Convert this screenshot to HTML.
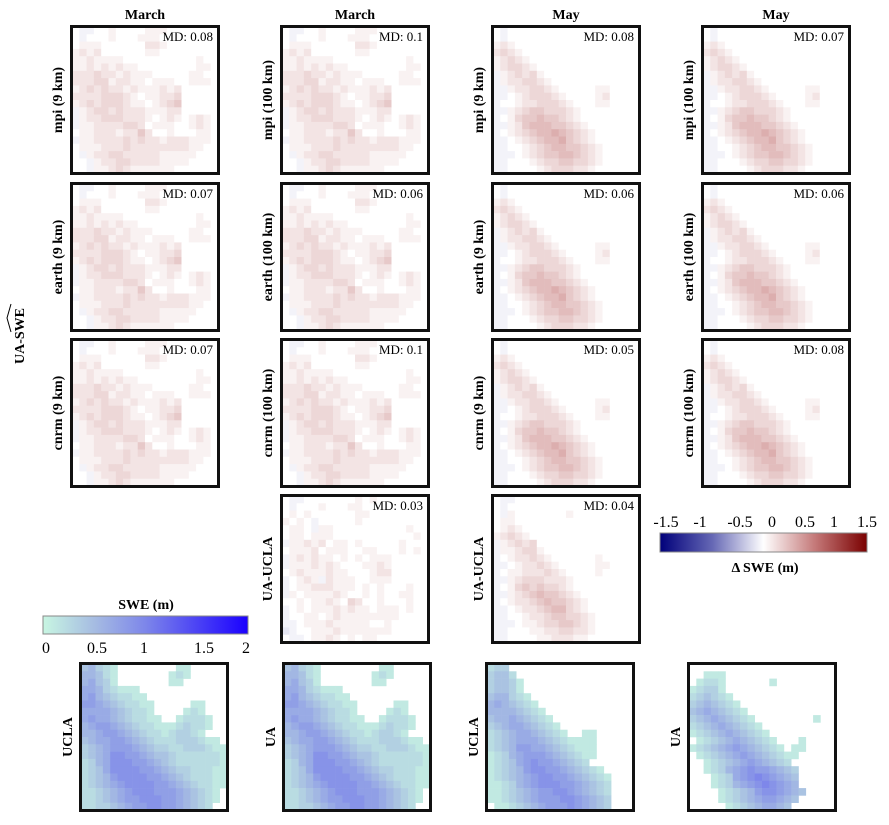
<!DOCTYPE html>
<html><head><meta charset="utf-8"><style>
html,body{margin:0;padding:0;background:#fff;}
svg{display:block;}
text{font-family:"Liberation Serif","DejaVu Serif",serif;}
</style></head><body>
<svg id="fig" width="889" height="825" viewBox="0 0 889 825" xmlns="http://www.w3.org/2000/svg">
<defs>
<linearGradient id="sweGrad" x1="0" x2="1" y1="0" y2="0">
<stop offset="0" stop-color="#c8f6e2"/><stop offset="0.25" stop-color="#a6bce2"/><stop offset="0.5" stop-color="#7d86ea"/><stop offset="1" stop-color="#1a00ff"/>
</linearGradient>
<linearGradient id="diffGrad" x1="0" x2="1" y1="0" y2="0">
<stop offset="0" stop-color="#00007a"/><stop offset="0.25" stop-color="#6466b4"/><stop offset="0.5" stop-color="#ffffff"/><stop offset="0.75" stop-color="#c47878"/><stop offset="1" stop-color="#7a0000"/>
</linearGradient>
</defs>
</svg>
<script>
// ---- data grids (20x20) ----
// SWE grids: digit level, SWE = level*0.11 m; 0 = no snow
const marchSwe = [
"45321000000001100000","55421000000012100000","56431000000011000000","66532111000000000000",
"67543221100000000000","77654322110000011000","66665432210000121000","67665432211001222100",
"56776543221112322100","55677654322123321000","45667765432223332110","34567776543322333211",
"34568877654432222221","23568887765432222221","23468888776543322211","23457888877654322211",
"23456788887765432211","22345678887776543210","22345677888776543210","22334567788776543200"];
const maySweUCLA = [
"23300000000000000000","34420000000000000000","34431000000000000000","34431000000000000000",
"45532100000000000000","56543210000000000000","55554321000000000000","45565432100000000000",
"34566543210000000000","23456654321001100000","23456665432111100000","23457766543211100000",
"12356777654321100000","12346787765432000000","12345788776543210000","12345678877654321000",
"11235678887765432000","11234567788765432000","11234567778876543000","01123456777876543000"];
const maySweUA = [
"00000000000000000000","00111000000000000000","01221000000100000000","12331000000000000000",
"23432100000000000000","34543210000000000000","45654321000000000000","34565432100000000100",
"23456543210000000000","12345654321000000000","01234565432100010000","12345676543210110000",
"01234567654321100000","00123456765432000000","00123567877654300000","00012367898765400000",
"00012356789876500000","00001234578876540000","00001234567765400000","00000123456654000000"];
// difference grids: digit = +0.075 m per level, 'a' = -0.075, 'b' = -0.15
const marchDiff = [
"0aa00100001110000000","0a000100011100000000","01110000002210000000","12120000001100000000",
"11211110000000000100","11212121100000000110","22232212111000001100","22233122110111001110",
"12323221211121200000","22223332101122300000","12323332110123400000","a1233232221112200000",
"a1223332221012101210","a1122223320111001210","01122212242001000110","a1122223232212221110",
"01112223222222221100","0a122332222211111000","00a12233222211110000","00a11232111111000000"];
const marchDiffUA = [
"0aa00000001010000000","0a000100011000000000","01010000001100000000","1010a000001000000000",
"0110a110000000000100","01101110000000000010","a1121201101000001000","01112011100110001010",
"a1212110101011100000","a1112121000112100000","01211121100012200000","a0121a21110011100000",
"a0112221110101000100","a1011112100101001100","00101121032001000100","a0101112121101110100",
"a0011012111111110000","aa011121111100100000","ba001112111111100000","0aa01121010110000000"];
const mayDiff = [
"0a000000000000000000","0a000000000000000000","12100000000000000000","23210000000000000000",
"12321000000000000000","12332100000000000000","a1232310000000000000","a1223321000000000000",
"aa122332100000110000","aa012333210000120000","a0012233321000110000","aa123443332100000000",
"a0134454432100000000","aa124555443210000000","a0123455654321000000","aa012345564321000000",
"aa001234554432100000","aaa01234455432100000","aa000123344332100000","aa000012333221000000"];
const mayDiffUA = [
"0aa00000000000000000","0a000000000000000000","0a100000001000000000","01100000000000000000",
"01210000000000000000","12321000000000000000","a1232300000000000000","a1123310000000000000",
"a0122321000000100000","aa012232100000110000","a0112223210000100000","aa123332221000000000",
"a0134343321000000000","aa123454432100000000","a0122345443210000000","aa012234553210000000",
"aa001223443321000000","aaa01123344321000000","aa000112233221000000","aa000011222110000000"];
const mdLabels = ["MD: 0.08","MD: 0.1","MD: 0.08","MD: 0.07","MD: 0.07","MD: 0.06","MD: 0.06","MD: 0.06","MD: 0.07","MD: 0.1","MD: 0.05","MD: 0.08","MD: 0.03","MD: 0.04"];
const rowLabels = ["mpi (9 km)","mpi (100 km)","mpi (9 km)","mpi (100 km)","earth (9 km)","earth (100 km)","earth (9 km)","earth (100 km)","cnrm (9 km)","cnrm (100 km)","cnrm (9 km)","cnrm (100 km)","UA-UCLA","UA-UCLA"];
const bottomLabels = ["UCLA","UA","UCLA","UA"];
const colTitles = ["March","March","May","May"];
const sweTicks = ["0","0.5","1","1.5","2"];
const diffTicks = ["-1.5","-1","-0.5","0","0.5","1","1.5"];

const NS="http://www.w3.org/2000/svg";
const svg=document.getElementById('fig');
const FONT='"Liberation Serif", "DejaVu Serif", serif';
function mk(tag,attrs,parent){const e=document.createElementNS(NS,tag);for(const k in attrs)e.setAttribute(k,attrs[k]);if(tag==='text')e.setAttribute('font-family',FONT);(parent||svg).appendChild(e);return e;}
function lerp(a,b,t){return a.map((v,i)=>Math.round(v+(b[i]-v)*t));}
function interp(stops,v){for(let i=0;i<stops.length-1;i++){const[a,ca]=stops[i],[b,cb]=stops[i+1];if(v<=b){return lerp(ca,cb,Math.max(0,(v-a)/(b-a)));}}return stops[stops.length-1][1];}
const sweStops=[[0,[200,246,226]],[0.5,[166,188,226]],[1,[125,134,234]],[2,[26,0,255]]];
const diffStops=[[-1.5,[0,0,122]],[-0.75,[100,102,180]],[0,[255,255,255]],[0.75,[196,120,120]],[1.5,[122,0,0]]];
function sweColor(ch){const L=+ch;if(L===0)return null;const c=interp(sweStops,L*0.11);return `rgb(${c})`;}
function diffColor(ch){let v;if(ch==='a')v=-0.06;else if(ch==='b')v=-0.12;else v=(+ch)*0.075;const c=interp(diffStops,v);return `rgb(${c})`;}

const colX=[70,280,491,701], rowY=[25,182,338,494];
const botX=[79,282,485,687], botY=662, S=150;

function panel(x,y,grid,colorFn,name){
  const g=mk('g',{});
  
  
  mk('rect',{x:x,y:y,width:S,height:S,fill:'#fff'},g);
  const n=grid.length, cs=(S-4)/n;
  for(let r=0;r<n;r++)for(let c=0;c<grid[r].length;c++){
    const col=colorFn(grid[r][c]); if(!col)continue;
    const cell=mk('rect',{x:(x+2+c*cs).toFixed(2),y:(y+2+r*cs).toFixed(2),width:(cs+0.3).toFixed(2),height:(cs+0.3).toFixed(2),fill:col},g);
    
    
  }
  mk('rect',{x:x+1.5,y:y+1.5,width:S-3,height:S-3,fill:'none',stroke:'#111','stroke-width':3},g);
  return g;
}
function ylabel(x,y,text,name){
  const t=mk('text',{x:0,y:0,transform:`translate(${x},${y}) rotate(-90)`,'text-anchor':'middle','font-weight':'bold','font-size':14},svg);
  t.textContent=text;
  
  
}

colTitles.forEach((t,i)=>{const e=mk('text',{x:colX[i]+S/2,y:19,'text-anchor':'middle','font-weight':'bold','font-size':14});e.textContent=t;

});

const diffGrids=[marchDiff,marchDiff,mayDiff,mayDiff];
let k=0;
for(let r=0;r<3;r++)for(let c=0;c<4;c++){
  panel(colX[c],rowY[r],diffGrids[c],diffColor,'diff-panel');
  const md=mk('text',{x:colX[c]+S-7,y:rowY[r]+16,'text-anchor':'end','font-size':13});md.textContent=mdLabels[k];
  
  
  ylabel(colX[c]-8,rowY[r]+S/2,rowLabels[k],'row-label');
  k++;
}
[[1,marchDiffUA],[2,mayDiffUA]].forEach(([c,g],i)=>{
  panel(colX[c],rowY[3],g,diffColor,'ua-ucla-diff-panel');
  const md=mk('text',{x:colX[c]+S-7,y:rowY[3]+16,'text-anchor':'end','font-size':13});md.textContent=mdLabels[12+i];
  
  
  ylabel(colX[c]-8,rowY[3]+S/2,rowLabels[12+i],'row-label');
});

const botGrids=[marchSwe,marchSwe,maySweUCLA,maySweUA];
botGrids.forEach((g,i)=>{panel(botX[i],botY,g,sweColor,'swe-panel');ylabel(botX[i]-7,botY+S/2,bottomLabels[i],'swe-panel-label');});

const ua=mk('text',{x:0,y:0,transform:'translate(24,336) rotate(-90)','text-anchor':'middle','font-weight':'bold','font-size':14});ua.textContent='UA-SWE';


mk('polyline',{points:'11,332 7,318 11,304',fill:'none',stroke:'#000','stroke-width':1});

const sb=mk('rect',{x:43,y:616,width:205,height:18,fill:'url(#sweGrad)',stroke:'#888','stroke-width':1});


const stl=mk('text',{x:146,y:609,'text-anchor':'middle','font-weight':'bold','font-size':14});stl.textContent='SWE (m)';


const sweTickX=[46,97,144,204,246];
sweTicks.forEach((t,i)=>{const e=mk('text',{x:sweTickX[i],y:653,'text-anchor':'middle','font-size':16});e.textContent=t;

});

const db=mk('rect',{x:660,y:533,width:207,height:19,fill:'url(#diffGrad)',stroke:'#888','stroke-width':1});


const diffTickX=[666,700,740,772,805,834,867];
diffTicks.forEach((t,i)=>{const e=mk('text',{x:diffTickX[i],y:527,'text-anchor':'middle','font-size':16});e.textContent=t;

});
const dtl=mk('text',{x:765,y:572,'text-anchor':'middle','font-weight':'bold','font-size':14});dtl.textContent='Δ SWE (m)';


</script>
</body></html>
